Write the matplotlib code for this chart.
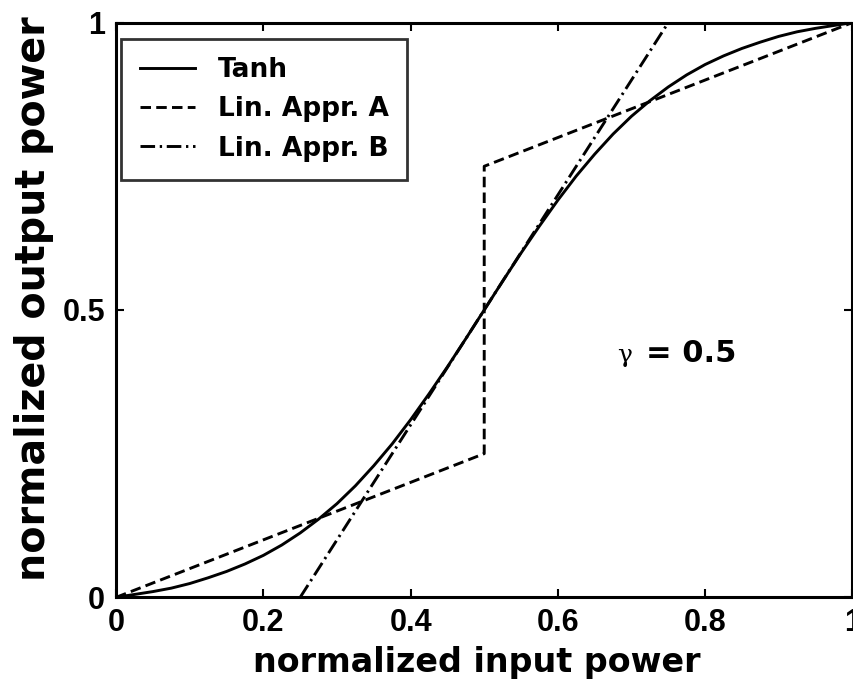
import matplotlib
matplotlib.use("Agg")
import matplotlib.pyplot as plt
from matplotlib.font_manager import FontProperties

# Normalized input/output power transfer curves
tanh_x = [0.0, 0.025, 0.05, 0.075, 0.1, 0.125, 0.15, 0.175, 0.2, 0.225, 0.25,
          0.275, 0.3, 0.325, 0.35, 0.375, 0.4, 0.425, 0.45, 0.475, 0.5,
          0.525, 0.55, 0.575, 0.6, 0.625, 0.65, 0.675, 0.7, 0.725, 0.75,
          0.775, 0.8, 0.825, 0.85, 0.875, 0.9, 0.925, 0.95, 0.975, 1.0]
tanh_y = [0.0, 0.005, 0.010, 0.016, 0.024, 0.034, 0.045, 0.058, 0.073, 0.091, 0.112,
          0.136, 0.163, 0.194, 0.229, 0.267, 0.309, 0.354, 0.401, 0.450, 0.5,
          0.550, 0.599, 0.646, 0.691, 0.733, 0.771, 0.806, 0.837, 0.864, 0.888,
          0.909, 0.927, 0.942, 0.955, 0.966, 0.976, 0.984, 0.990, 0.995, 1.0]

appr_a_x = [0.0, 0.5, 0.5, 1.0]
appr_a_y = [0.0, 0.25, 0.75, 1.0]

appr_b_x = [0.25, 0.75]
appr_b_y = [0.0, 1.0]

x_ticks = [0, 0.2, 0.4, 0.6, 0.8, 1]
x_tick_labels = ["0", "0.2", "0.4", "0.6", "0.8", "1"]
y_ticks = [0, 0.5, 1]
y_tick_labels = ["0", "0.5", "1"]

plt.rcParams['font.family'] = ['DejaVu Sans']
plt.rcParams['font.weight'] = 'bold'

fig = plt.figure(figsize=(8.54, 6.85), dpi=100)
ax = fig.add_axes([0.136, 0.128, 0.862, 0.839])

lw = 2.1
ax.plot(tanh_x, tanh_y, color='black', linewidth=lw, linestyle='-', label='Tanh')
ax.plot(appr_a_x, appr_a_y, color='black', linewidth=lw, linestyle=(0, (3.6, 1.8)),
        label='Lin. Appr. A')
ax.plot(appr_b_x, appr_b_y, color='black', linewidth=lw,
        linestyle=(0, (5.0, 1.6, 0.8, 1.6)), label='Lin. Appr. B')

ax.set_xlim(0, 1)
ax.set_ylim(0, 1)
ax.set_xticks(x_ticks)
ax.set_xticklabels(x_tick_labels)
ax.set_yticks(y_ticks)
ax.set_yticklabels(y_tick_labels)
ax.tick_params(direction='in', top=True, right=True, length=6, width=1.5, pad=8)
tick_font = FontProperties(family=['Liberation Sans', 'DejaVu Sans'], size=22,
                           weight='bold')
for lab in ax.get_xticklabels() + ax.get_yticklabels():
    lab.set_fontproperties(tick_font)
for sp in ax.spines.values():
    sp.set_linewidth(2.2)

ax.set_xlabel('normalized input power', fontsize=24, fontweight='bold')
ax.xaxis.set_label_coords(0.49, -0.085)
ax.set_ylabel('normalized output power', fontsize=28.5, fontweight='bold')
ax.yaxis.set_label_coords(-0.085, 0.52)

ax.text(0.681, 0.42, 'γ', fontsize=18, fontweight='normal',
        family='DejaVu Serif', ha='left', va='center')
ax.text(0.72, 0.425, '= 0.5', fontsize=22, fontweight='bold', ha='left', va='center')

leg = ax.legend(loc='upper left', bbox_to_anchor=(0.007, 0.972), fontsize=19,
                frameon=True, fancybox=False, edgecolor='black', handlelength=2.1,
                borderpad=0.7, labelspacing=0.5, handletextpad=0.85,
                borderaxespad=0.0)
leg.get_frame().set_linewidth(2.0)
for t in leg.get_texts():
    t.set_fontweight('bold')

fig.savefig('out.png', dpi=100)
